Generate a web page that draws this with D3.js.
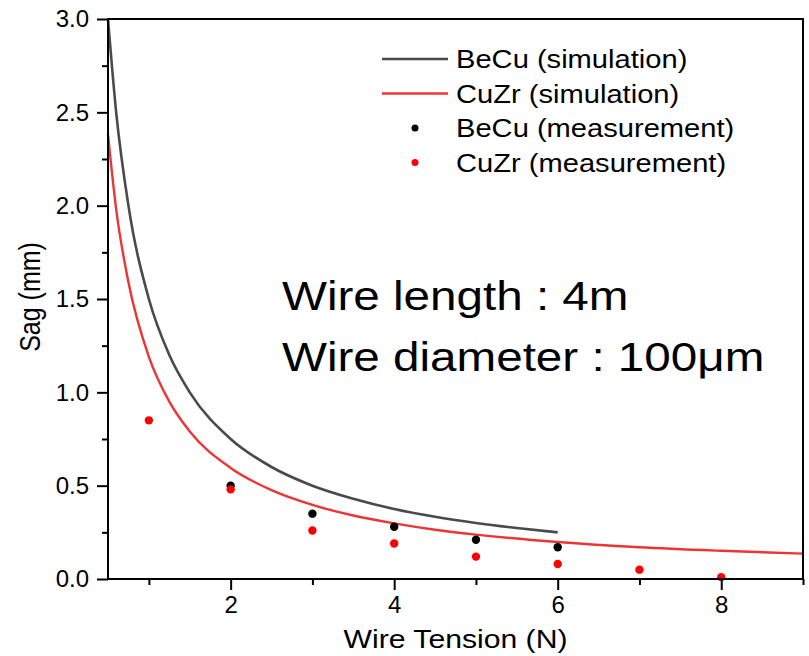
<!DOCTYPE html>
<html>
<head>
<meta charset="utf-8">
<script src="https://cdn.jsdelivr.net/npm/d3@7"></script>
<style>
body{margin:0;background:#fff}
text{font-family:"Liberation Sans",Arial,sans-serif;fill:#000}
</style>
</head>
<body>
<div id="chart"></div>
<script>
// simulation curves
var becuSim = [{x:0.5,y:3.0},{x:0.6,y:2.5},{x:0.75,y:2.0},{x:1,y:1.5},{x:1.25,y:1.2},{x:1.5,y:1.0},{x:2,y:0.75},{x:2.5,y:0.6},{x:3,y:0.5},{x:3.5,y:0.43},{x:4,y:0.375},{x:4.5,y:0.333},{x:5,y:0.3},{x:5.5,y:0.273},{x:6,y:0.25}]
var cuzrSim = [{x:0.5,y:2.38},{x:0.6,y:1.98},{x:0.75,y:1.59},{x:1,y:1.19},{x:1.25,y:0.95},{x:1.5,y:0.79},{x:2,y:0.595},{x:2.5,y:0.476},{x:3,y:0.397},{x:3.5,y:0.34},{x:4,y:0.298},{x:4.5,y:0.264},{x:5,y:0.238},{x:6,y:0.198},{x:7,y:0.17},{x:8,y:0.151},{x:9,y:0.136}]

// measurements
var becuMeas = [{x:2,y:0.50},{x:3,y:0.35},{x:4,y:0.28},{x:5,y:0.21},{x:6,y:0.17}]
var cuzrMeas = [{x:1,y:0.85},{x:2,y:0.48},{x:3,y:0.26},{x:4,y:0.19},{x:5,y:0.12},{x:6,y:0.08},{x:7,y:0.05},{x:8,y:0.01}]

var xMajor = [2,4,6,8]
var xMinor = [1,3,5,7,9]
var yMajor = [0,0.5,1,1.5,2,2.5,3]
var yMinor = [0.25,0.75,1.25,1.75,2.25,2.75]

var legendItems = ["BeCu (simulation)","CuZr (simulation)","BeCu (measurement)","CuZr (measurement)"]
var notes = ["Wire length : 4m","Wire diameter : 100μm"]

var W = 809, H = 656
var svg = d3.select("#chart")
.append("svg")
.attr("width",W)
.attr("height",H)

var xScale = d3.scaleLinear()
.domain([0.5,9])
.range([108,803])

var yScale = d3.scaleLinear()
.domain([0,3])
.range([579,19])

// text that is a bit wider than the font, like the original
function wideText(t,x,y,size,sx,anchor,rot){
    return svg.append("text")
    .text(t)
    .attr("transform","translate("+x+","+y+") scale("+sx+",1)"+(rot?" rotate("+rot+")":""))
    .attr("text-anchor",anchor||"start")
    .style("font-size",size+"px")
}

var ourLine = d3.line()
.x(function(d){return xScale(d.x)})
.y(function(d){return yScale(d.y)})
.curve(d3.curveMonotoneX)

svg.append("path")
.datum(becuSim)
.attr("d",ourLine)
.attr("fill","none")
.attr("stroke","#4a4a4a")
.attr("stroke-width",2.6)

svg.append("path")
.datum(cuzrSim)
.attr("d",ourLine)
.attr("fill","none")
.attr("stroke","#ee3535")
.attr("stroke-width",2.4)

svg.selectAll(".mb").data(becuMeas).enter().append("circle")
.attr("cx",function(d){return xScale(d.x)})
.attr("cy",function(d){return yScale(d.y)})
.attr("r",4.2)
.attr("fill","#000")

svg.selectAll(".mr").data(cuzrMeas).enter().append("circle")
.attr("cx",function(d){return xScale(d.x)})
.attr("cy",function(d){return yScale(d.y)})
.attr("r",4.2)
.attr("fill","#ff0000")

// axes
function styleAxis(g){
    g.select(".domain").remove()
    g.selectAll("line").attr("stroke","#000").attr("stroke-width",2)
    g.selectAll("text").style("font-size","24px").style("font-family","Liberation Sans, Arial, sans-serif")
}

svg.append("g")
.attr("transform","translate(0,579)")
.call(d3.axisBottom(xScale).tickValues(xMajor).tickFormat(d3.format("d")).tickSize(11).tickPadding(6))
.call(styleAxis)

svg.append("g")
.attr("transform","translate(0,579)")
.call(d3.axisBottom(xScale).tickValues(xMinor).tickFormat("").tickSize(6))
.call(styleAxis)

svg.append("g")
.attr("transform","translate(108,0)")
.call(d3.axisLeft(yScale).tickValues(yMajor).tickFormat(d3.format(".1f")).tickSize(11).tickPadding(8))
.call(styleAxis)

svg.append("g")
.attr("transform","translate(108,0)")
.call(d3.axisLeft(yScale).tickValues(yMinor).tickFormat("").tickSize(6))
.call(styleAxis)

// frame
svg.append("rect")
.attr("x",xScale(0.5))
.attr("y",yScale(3))
.attr("width",xScale(9)-xScale(0.5))
.attr("height",yScale(0)-yScale(3))
.attr("fill","none")
.attr("stroke","#000")
.attr("stroke-width",2)

wideText("Wire Tension (N)",(xScale(0.5)+xScale(9))/2,648,26,1.16,"middle")
wideText("Sag (mm)",40,297,25,1.15,"middle",-90)

// legend
var leg = svg.append("g")
legendItems.forEach(function(t,i){
    var cy = 59 + i*34.5
    if(i<2){
        leg.append("line")
        .attr("x1",382).attr("x2",448)
        .attr("y1",cy).attr("y2",cy)
        .attr("stroke",i==0?"#4a4a4a":"#ee3535")
        .attr("stroke-width",2.6)
    } else {
        leg.append("circle")
        .attr("cx",415).attr("cy",cy)
        .attr("r",3.5)
        .attr("fill",i==2?"#000":"#ff0000")
    }
    wideText(t,456,cy+9,26,1.12)
})

notes.forEach(function(t,i){
    wideText(t,282,310+i*61,40,1.19)
})
</script>
</body>
</html>
